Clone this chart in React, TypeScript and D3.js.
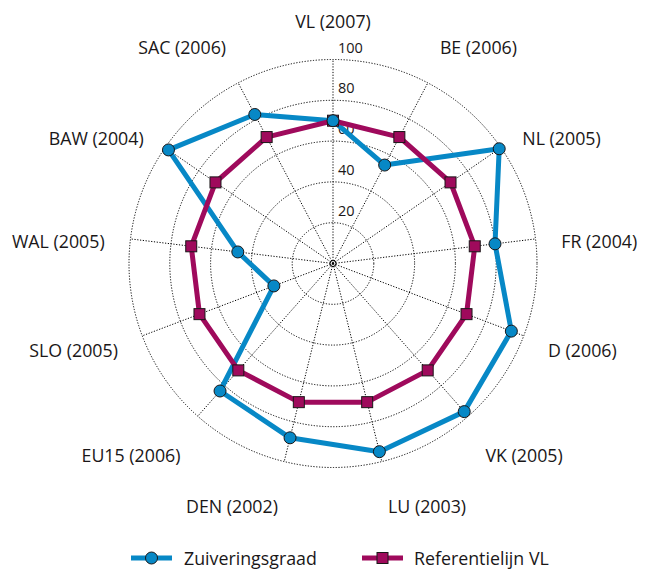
import React from 'react';
import * as d3 from 'd3';

const categories = [
  'VL (2007)', 'BE (2006)', 'NL (2005)', 'FR (2004)', 'D (2006)', 'VK (2005)', 'LU (2003)',
  'DEN (2002)', 'EU15 (2006)', 'SLO (2005)', 'WAL (2005)', 'BAW (2004)', 'SAC (2006)',
];
const zuiveringsgraad = [70, 54.5, 99, 80, 93.5, 97, 95, 88, 83.5, 31, 47, 98, 82.5];
const referentielijnVL = [70, 70, 70, 70, 70, 70, 70, 70, 70, 70, 70, 70, 70];
const radialTicks = [20, 40, 60, 80, 100];
const seriesNames = ['Zuiveringsgraad', 'Referentielijn VL'];

const W = 646;
const H = 570;
const cx = 333;
const cy = 263.5;
const R = 204;
const BLUE = '#0788c6';
const PINK = '#9f0a5c';
const INK = '#1a1718';
const FONT = '"Open Sans", "Noto Sans", sans-serif';

export default function App() {
  const n = categories.length;
  const r = d3.scaleLinear().domain([0, 100]).range([0, R]);
  const angle = d3.scalePoint<number>().domain(d3.range(n + 1)).range([0, 2 * Math.PI]);
  const a = (i: number) => angle(i) as number;
  const px = (i: number, v: number) => cx + r(v) * Math.sin(a(i));
  const py = (i: number, v: number) => cy - r(v) * Math.cos(a(i));

  const radial = d3
    .lineRadial<number>()
    .angle((_, i) => a(i))
    .radius((d) => r(d))
    .curve(d3.curveLinearClosed);

  const labelR = 230;

  return (
    <svg width={W} height={H} style={{ position: 'absolute', left: 0, top: 0, background: '#fff' }}>
      <g>
        {radialTicks.map((t) => (
          <circle key={t} cx={cx} cy={cy} r={r(t)} fill="none" stroke="#000" strokeWidth={1} strokeDasharray="1.2 1.6" />
        ))}
        <circle cx={cx} cy={cy} r={3} fill="none" stroke="#000" strokeWidth={1} />
        <circle cx={cx} cy={cy} r={0.8} fill="#000" />
        {categories.map((c, i) => (
          <line
            key={c}
            x1={cx}
            y1={cy}
            x2={px(i, 100)}
            y2={py(i, 100)}
            stroke="#000"
            strokeWidth={1}
            strokeDasharray="1.2 1.6"
          />
        ))}
        {radialTicks.map((t) => (
          <text key={'t' + t} x={cx + 5} y={cy - r(t) - 7} fontFamily={FONT} fontSize={14.5} fill={INK}>
            {t}
          </text>
        ))}
      </g>
      <g>
        {categories.map((c, i) => {
          const s = Math.sin(a(i));
          const co = Math.cos(a(i));
          const anchor = s > 0.05 ? 'start' : s < -0.05 ? 'end' : 'middle';
          const dy = co > 0.75 ? -6 : co < -0.7 ? 26 : 12;
          return (
            <text
              key={c}
              x={cx + labelR * s}
              y={cy - labelR * co + dy}
              textAnchor={anchor}
              fontFamily={FONT}
              fontSize={17.8}
              fill={INK}
            >
              {c}
            </text>
          );
        })}
      </g>
      <g transform={`translate(${cx},${cy})`}>
        <path d={radial(zuiveringsgraad) || ''} fill="none" stroke={BLUE} strokeWidth={5} strokeLinejoin="round" />
        <path d={radial(referentielijnVL) || ''} fill="none" stroke={PINK} strokeWidth={5} strokeLinejoin="round" />
      </g>
      <g>
        {referentielijnVL.map((v, i) => (
          <rect
            key={'r' + i}
            x={px(i, v) - 5.5}
            y={py(i, v) - 5.5}
            width={11}
            height={11}
            fill={PINK}
            stroke={INK}
            strokeWidth={1}
          />
        ))}
        {zuiveringsgraad.map((v, i) => (
          <circle key={'c' + i} cx={px(i, v)} cy={py(i, v)} r={6} fill={BLUE} stroke={INK} strokeWidth={1} />
        ))}
      </g>
      <g fontFamily={FONT} fontSize={17.8} fill={INK}>
        <line x1={131} x2={172} y1={558} y2={558} stroke={BLUE} strokeWidth={5} />
        <circle cx={151.5} cy={558} r={6} fill={BLUE} stroke={INK} strokeWidth={1} />
        <text x={184} y={564.5}>{seriesNames[0]}</text>
        <line x1={362} x2={403} y1={558} y2={558} stroke={PINK} strokeWidth={5} />
        <rect x={377} y={552.5} width={11} height={11} fill={PINK} stroke={INK} strokeWidth={1} />
        <text x={414} y={564.5}>{seriesNames[1]}</text>
      </g>
    </svg>
  );
}
